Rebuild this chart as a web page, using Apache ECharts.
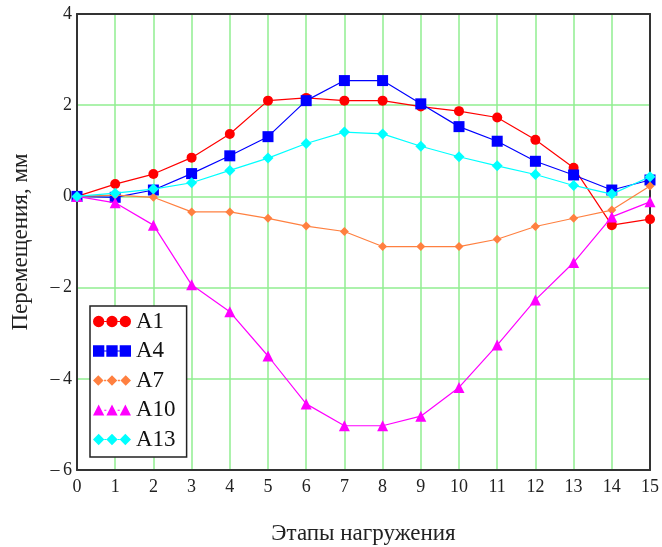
<!DOCTYPE html>
<html><head><meta charset="utf-8">
<script src="https://cdn.jsdelivr.net/npm/echarts@6/dist/echarts.min.js"></script>
<style>html,body{margin:0;padding:0;background:#fff}#c{width:662px;height:547px}</style>
</head><body><div id="c"></div>
<script>
var steps = [0,1,2,3,4,5,6,7,8,9,10,11,12,13,14,15];
var A1  = [0,0.27,0.49,0.85,1.37,2.10,2.16,2.10,2.10,1.97,1.87,1.73,1.24,0.63,-0.63,-0.50];
var A4  = [0,-0.02,0.14,0.50,0.89,1.31,2.10,2.54,2.54,2.03,1.53,1.21,0.77,0.47,0.14,0.36];
var A7  = [0,0.03,-0.02,-0.34,-0.34,-0.48,-0.65,-0.77,-1.10,-1.10,-1.10,-0.94,-0.66,-0.48,-0.30,0.23];
var A10 = [0,-0.14,-0.63,-1.94,-2.53,-3.50,-4.55,-5.03,-5.03,-4.82,-4.19,-3.26,-2.27,-1.45,-0.45,-0.12];
var A13 = [0,0.07,0.16,0.30,0.57,0.84,1.16,1.41,1.37,1.10,0.87,0.67,0.48,0.24,0.05,0.43];
var names = ['A1','A4','A7','A10','A13'];
var yTicks = [-6,-4,-2,0,2,4];

var colors = ['#ff0000','#0000ff','#ff8040','#ff00ff','#00ffff'];
var symbols = ['circle','rect','diamond','triangle','diamond'];
var sizes = [10,11,9,11,11];
var values = [A1,A4,A7,A10,A13];

var conn = ' M11.5,5.4 L13.5,5.4 L13.5,6.6 L11.5,6.6 Z M24.5,5.4 L26.5,5.4 L26.5,6.6 L24.5,6.6 Z';
function tri(fn){ return 'path://' + fn(0) + ' ' + fn(13) + ' ' + fn(26) + conn; }
var icons = [
  tri(function(o){return 'M'+(o+0.5)+',6 a5.5,5.5 0 1,0 11,0 a5.5,5.5 0 1,0 -11,0 Z';}),
  tri(function(o){return 'M'+(o+0.5)+',0.5 L'+(o+11.5)+',0.5 L'+(o+11.5)+',11.5 L'+(o+0.5)+',11.5 Z';}),
  tri(function(o){return 'M'+(o+6)+',1 L'+(o+11)+',6 L'+(o+6)+',11 L'+(o+1)+',6 Z';}),
  tri(function(o){return 'M'+(o+6)+',0.5 L'+(o+11.5)+',11 L'+(o+0.5)+',11 Z';}),
  tri(function(o){return 'M'+(o+6)+',0.5 L'+(o+11.5)+',6 L'+(o+6)+',11.5 L'+(o+0.5)+',6 Z';})
];

var font = '"Liberation Serif", "Times New Roman", serif';
var series = names.map(function(n,i){
  return {
    name:n, type:'line',
    data: steps.map(function(s,k){return [s, values[i][k]];}),
    symbol: symbols[i], symbolSize: sizes[i],
    lineStyle:{color:colors[i], width:1.2},
    itemStyle:{color:colors[i]},
    z: 2+i
  };
});

var frameAxis = {show:true, lineStyle:{color:'#333', width:2}, onZero:false};
var chart = echarts.init(document.getElementById('c'), null, {renderer:'canvas'});
chart.setOption({
  animation:false,
  backgroundColor:'#fff',
  grid:{left:77, top:14, right:12, bottom:77, containLabel:false, outerBoundsMode:'none'},
  legend:{
    orient:'vertical', left:90, top:306,
    padding:[4,11,6,3], itemGap:6.5, itemWidth:38, itemHeight:12, itemTextGap:9,
    backgroundColor:'#fff', borderColor:'#222', borderWidth:1.5,
    textStyle:{fontFamily:font, fontSize:23, color:'#111'},
    data: names.map(function(n,i){return {name:n, icon:icons[i], itemStyle:{color:colors[i]}};})
  },
  xAxis:[{
    type:'value', min:0, max:15, interval:1, position:'bottom',
    name:'Этапы нагружения', nameLocation:'middle', nameGap:52,
    nameTextStyle:{fontFamily:font, fontSize:23, color:'#222'},
    axisLine:frameAxis,
    axisTick:{show:false},
    axisLabel:{fontFamily:font, fontSize:18, color:'#222', margin:8},
    splitLine:{show:true, lineStyle:{color:'#90ee90', width:1.5}}
  },{
    type:'value', min:0, max:15, interval:1, position:'top',
    axisLine:frameAxis, axisTick:{show:false}, axisLabel:{show:false}, splitLine:{show:false}
  }],
  yAxis:[{
    type:'value', min:yTicks[0], max:yTicks[yTicks.length-1], interval:2, position:'left',
    name:'Перемещения, мм', nameLocation:'middle', nameGap:45,
    nameTextStyle:{fontFamily:font, fontSize:23, color:'#222'},
    axisLine:frameAxis,
    axisTick:{show:false},
    axisLabel:{fontFamily:font, fontSize:18, color:'#222', margin:5,
      formatter:function(v){return v<0 ? '\u2013\u2009'+Math.abs(v) : String(v);}},
    splitLine:{show:true, lineStyle:{color:'#90ee90', width:1.5}}
  },{
    type:'value', min:yTicks[0], max:yTicks[yTicks.length-1], interval:2, position:'right',
    axisLine:frameAxis, axisTick:{show:false}, axisLabel:{show:false}, splitLine:{show:false}
  }],
  series: series
});
</script></body></html>
